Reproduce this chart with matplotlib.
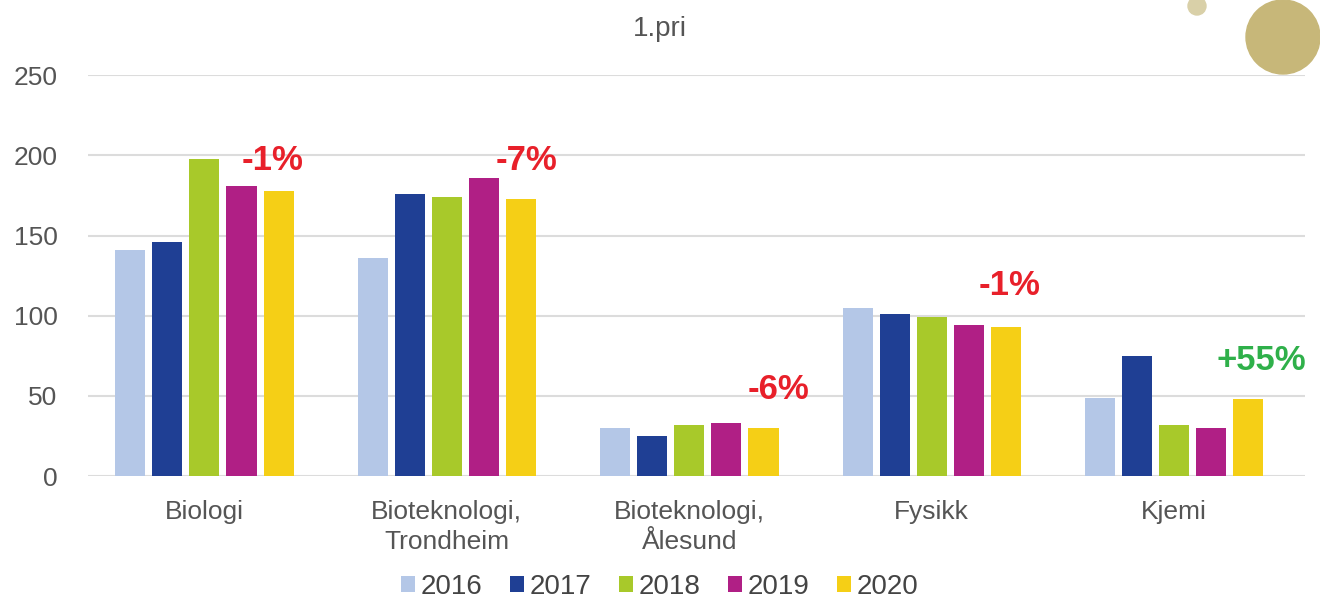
import numpy as np
import matplotlib
matplotlib.use('Agg')
import matplotlib.pyplot as plt
from matplotlib.patches import Ellipse

plt.rcParams['font.family'] = ['Liberation Sans', 'DejaVu Sans']

# data
categories = ['Biologi', 'Bioteknologi,\nTrondheim', 'Bioteknologi,\nÅlesund', 'Fysikk', 'Kjemi']
years = ['2016', '2017', '2018', '2019', '2020']
v2016 = [141, 136, 30, 105, 49]
v2017 = [146, 176, 25, 101, 75]
v2018 = [198, 174, 32, 99, 32]
v2019 = [181, 186, 33, 94, 30]
v2020 = [178, 173, 30, 93, 48]
changes = ['-1%', '-7%', '-6%', '-1%', '+55%']
change_y = [197, 197, 54, 119, 72]
change_dx = [0.28, 0.33, 0.37, 0.32, 0.36]

colors = ['#b4c7e7', '#1f3f94', '#a8c92a', '#b01f85', '#f5cf16']

fig = plt.figure(figsize=(13.2, 6.02), dpi=100)
ax = fig.add_axes([0.0667, 0.209, 0.922, 0.666])

x = np.arange(len(categories))
step = 0.153
width = 0.124
series = [v2016, v2017, v2018, v2019, v2020]

for i, vals in enumerate(series):
    ax.bar(x + (i - 2) * step, vals, width, color=colors[i], label=years[i], zorder=3)

# percentage change labels
for i, txt in enumerate(changes):
    col = '#2fb04a' if txt.startswith('+') else '#e8202a'
    ax.text(x[i] + change_dx[i], change_y[i], txt, color=col, fontsize=25,
            fontweight='bold', ha='center', va='center', zorder=4)

ax.set_xlim(-0.48, 4.54)
ax.set_ylim(0, 250)
ax.set_yticks([0, 50, 100, 150, 200, 250])
ax.set_xticks(x)
ax.set_xticklabels(categories, linespacing=1.35)
ax.tick_params(axis='both', length=0, labelsize=19, colors='#555555')
ax.tick_params(axis='y', pad=22)
ax.tick_params(axis='x', pad=17)
ax.grid(axis='y', color='#dcdcdc', linewidth=1.5, zorder=0)
for s in ax.spines.values():
    s.set_visible(False)

fig.text(0.5, 0.952, '1.pri', ha='center', va='center', fontsize=20, color='#555555')

leg = fig.legend(loc='center', bbox_to_anchor=(0.5, 0.025), ncol=5, frameon=False,
                 fontsize=20, handlelength=0.5, handleheight=0.5, handletextpad=0.2,
                 columnspacing=1.0, labelcolor='#444444')

# decorative circles in the corner
fig.patches.append(Ellipse((1283 / 1320, 1 - 37 / 602), 74 / 1320, 74 / 602,
                           transform=fig.transFigure, color='#c7b779', zorder=0))
fig.patches.append(Ellipse((1197 / 1320, 1 - 6 / 602), 18 / 1320, 18 / 602,
                           transform=fig.transFigure, color='#d9d0a8', zorder=0))

fig.savefig('out.png', dpi=100)
